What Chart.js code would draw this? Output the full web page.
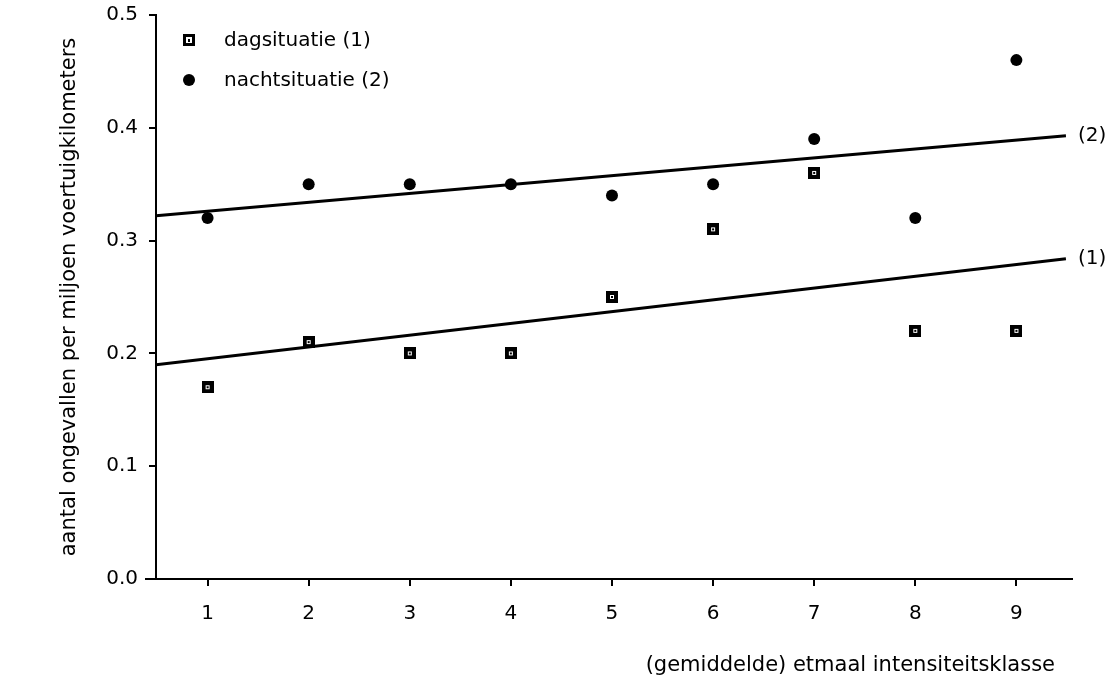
<!DOCTYPE html>
<html>
<head>
<meta charset="utf-8">
<script src="https://cdn.jsdelivr.net/npm/chart.js@4.4.1/dist/chart.umd.min.js"></script>
<style>
  html, body { margin: 0; padding: 0; background: #fff; }
</style>
</head>
<body>
<canvas id="grafiek" width="1114" height="686"></canvas>
<script>
// waarden
const klassen = [1, 2, 3, 4, 5, 6, 7, 8, 9];
const dagsituatie = [0.17, 0.21, 0.20, 0.20, 0.25, 0.31, 0.36, 0.22, 0.22];
const nachtsituatie = [0.32, 0.35, 0.35, 0.35, 0.34, 0.35, 0.39, 0.32, 0.46];

// regressielijnen (begin- en eindpunt)
const lijnX = [0.49, 9.49];
const lijn1 = [0.19, 0.284];
const lijn2 = [0.322, 0.393];

const yTicks = [0, 0.1, 0.2, 0.3, 0.4, 0.5];
const legendaLabels = ['dagsituatie (1)', 'nachtsituatie (2)'];
const lijnLabels = ['(1)', '(2)'];
const xTitel = '(gemiddelde) etmaal intensiteitsklasse';
const yTitel = 'aantal ongevallen per miljoen voertuigkilometers';

const font = '"DejaVu Sans", sans-serif';

// zwart vierkantje met klein wit binnenvlak, zoals in het origineel
function maakVierkant(open) {
  const c = document.createElement('canvas');
  c.width = 12; c.height = 12;
  const g = c.getContext('2d');
  g.fillStyle = '#000';
  g.fillRect(0, 0, 12, 12);
  g.fillStyle = '#fff';
  if (open) {
    g.fillRect(3, 3, 6, 6);
    g.fillStyle = '#000';
    g.fillRect(5, 5, 2, 3);
  } else {
    g.fillRect(4, 4, 4, 4);
    g.fillStyle = '#000';
    g.fillRect(5, 5, 2, 2);
  }
  return c;
}
const vierkant = maakVierkant(false);
const vierkantLegenda = maakVierkant(true);

const punten = (xs, ys) => xs.map((x, i) => ({ x: x, y: ys[i] }));

const tekstPlugin = {
  id: 'tekst',
  afterDatasetsDraw(chart) {
    const ctx = chart.ctx;
    const area = chart.chartArea;
    ctx.save();
    ctx.fillStyle = '#000';
    ctx.strokeStyle = '#000';
    ctx.font = '20px ' + font;
    ctx.textBaseline = 'middle';

    // legenda linksboven in het grafiekvlak
    const lx = area.left + 33;
    ctx.drawImage(vierkantLegenda, lx - 6, area.top + 25 - 6);
    ctx.beginPath();
    ctx.arc(lx, area.top + 65, 6, 0, Math.PI * 2);
    ctx.fill();
    ctx.fillText(legendaLabels[0], lx + 35, area.top + 26);
    ctx.fillText(legendaLabels[1], lx + 35, area.top + 66);

    // labels aan het eind van de lijnen
    [2, 3].forEach((idx, i) => {
      const meta = chart.getDatasetMeta(idx);
      const p = meta.data[meta.data.length - 1];
      ctx.fillText(lijnLabels[i], p.x + 12, p.y);
    });

    // titel x-as, rechts uitgelijnd
    ctx.font = '21px ' + font;
    ctx.textAlign = 'right';
    ctx.fillText(xTitel, area.right - 17, 666);

    // x-as loopt iets voorbij de y-as
    ctx.lineWidth = 2;
    ctx.beginPath();
    ctx.moveTo(area.left - 11, area.bottom);
    ctx.lineTo(area.left, area.bottom);
    ctx.stroke();
    ctx.restore();
  }
};

new Chart(document.getElementById('grafiek'), {
  type: 'scatter',
  data: {
    datasets: [
      {
        label: legendaLabels[0],
        data: punten(klassen, dagsituatie),
        pointStyle: vierkant,
        pointRadius: 6,
        pointHoverRadius: 6
      },
      {
        label: legendaLabels[1],
        data: punten(klassen, nachtsituatie),
        pointStyle: 'circle',
        pointRadius: 6,
        backgroundColor: '#000',
        borderColor: '#000',
        borderWidth: 0
      },
      {
        label: 'lijn 1',
        data: punten(lijnX, lijn1),
        showLine: true,
        pointRadius: 0,
        borderColor: '#000',
        borderWidth: 3
      },
      {
        label: 'lijn 2',
        data: punten(lijnX, lijn2),
        showLine: true,
        pointRadius: 0,
        borderColor: '#000',
        borderWidth: 3
      }
    ]
  },
  options: {
    responsive: false,
    animation: false,
    layout: {
      padding: { left: 0, right: 42, top: 15, bottom: 0 }
    },
    plugins: {
      legend: { display: false },
      tooltip: { enabled: false }
    },
    scales: {
      x: {
        type: 'linear',
        min: 0.49,
        max: 9.55,
        afterBuildTicks: (axis) => { axis.ticks = klassen.map(v => ({ value: v })); },
        afterFit: (scale) => { scale.height = 107; },
        border: { display: true, color: '#000', width: 2 },
        grid: { drawOnChartArea: false, drawTicks: true, tickLength: 7, color: '#000', lineWidth: 2 },
        ticks: { color: '#000', font: { family: font, size: 20 }, padding: 16 }
      },
      y: {
        min: 0,
        max: 0.5,
        afterBuildTicks: (axis) => { axis.ticks = yTicks.map(v => ({ value: v })); },
        afterFit: (scale) => {
          scale.width = 156;
          scale.paddingTop = 0;
          scale.paddingBottom = 0;
        },
        border: { display: true, color: '#000', width: 2 },
        grid: { drawOnChartArea: false, drawTicks: true, tickLength: 7, color: '#000', lineWidth: 2 },
        ticks: {
          color: '#000',
          font: { family: font, size: 20 },
          padding: 11,
          callback: (v) => Number(v).toFixed(1)
        },
        title: {
          display: true,
          text: yTitel,
          color: '#000',
          font: { family: font, size: 21 },
          padding: { top: 57, bottom: 0 }
        }
      }
    }
  },
  plugins: [tekstPlugin]
});
</script>
</body>
</html>
